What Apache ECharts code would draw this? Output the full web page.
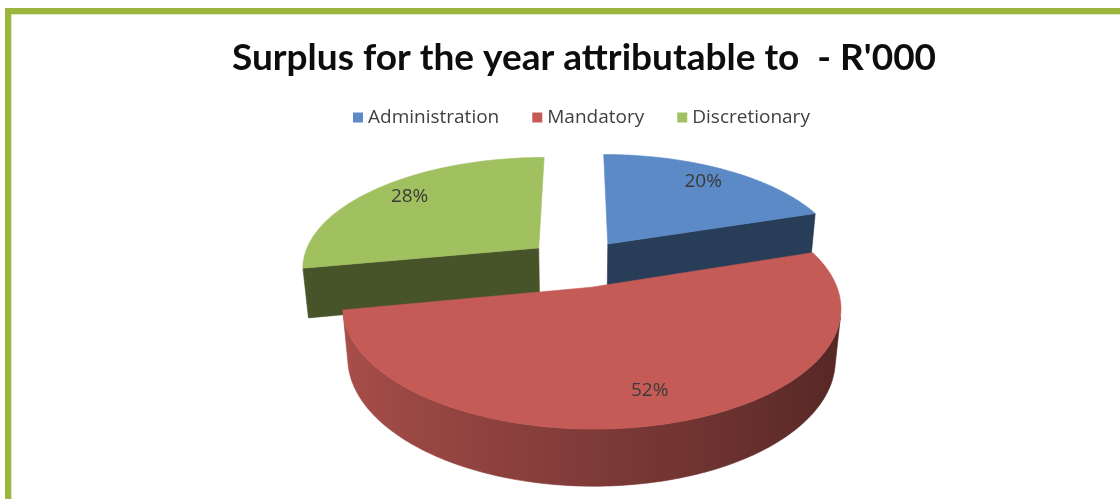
<!DOCTYPE html>
<html>
<head>
<meta charset="utf-8">
<script src="https://cdn.jsdelivr.net/npm/echarts@6/dist/echarts.min.js"></script>
<style>
  html, body { margin: 0; padding: 0; background: #ffffff; }
  #chart { width: 1120px; height: 499px; }
</style>
</head>
<body>
<div id="chart"></div>
<script>
// Surplus split by fund type (percent of total)
const categories = ['Administration', 'Mandatory', 'Discretionary'];
const shares = [20, 52, 28];
const titleText = "Surplus for the year attributable to  - R'000";

// Top-face colours of each slice
const sliceColors = ['#5B8AC6', '#C45B56', '#A1C05F'];

// Camera and solid settings for the tilted, exploded pie
const view = {
  tilt: 27.6 * Math.PI / 180,
  dist: 5.43,
  thick: 0.24,
  explode: 0.22,
  scale: 237,
  cx: 578,
  cy: 263,
  labelRadius: 0.8
};

const total = shares.reduce((a, b) => a + b, 0);
const starts = [];
(function () {
  let acc = 0;
  shares.forEach(v => { starts.push(acc / total * 2 * Math.PI); acc += v; });
})();

const cosT = Math.cos(view.tilt), sinT = Math.sin(view.tilt);
const camera = [0, view.dist * sinT, -view.dist * cosT];

// world (X right, Y up, Z away) -> screen pixels
function project(X, Y, Z) {
  const yv = Y * cosT + Z * sinT;
  const zv = Z * cosT - Y * sinT;
  const s = view.dist / (view.dist + zv);
  return [view.cx + view.scale * X * s, view.cy - view.scale * yv * s];
}

function shade(hex, f) {
  const n = parseInt(hex.slice(1), 16);
  const r = Math.min(255, Math.round(((n >> 16) & 255) * f));
  const g = Math.min(255, Math.round(((n >> 8) & 255) * f));
  const b = Math.min(255, Math.round((n & 255) * f));
  return 'rgb(' + r + ',' + g + ',' + b + ')';
}

function sliceOffset(i) {
  const a0 = starts[i];
  const a1 = a0 + shares[i] / total * 2 * Math.PI;
  const mid = (a0 + a1) / 2;
  return { ox: view.explode * Math.sin(mid), oz: view.explode * Math.cos(mid) };
}

// farther slices are painted first
const depthRank = shares.map((_, i) => i)
  .sort((p, q) => sliceOffset(q).oz - sliceOffset(p).oz)
  .reduce((m, idx, r) => { m[idx] = r; return m; }, {});

function buildSlice(i, value) {
  const a0 = starts[i];
  const a1 = a0 + value / total * 2 * Math.PI;
  const mid = (a0 + a1) / 2;
  const ox = view.explode * Math.sin(mid);
  const oz = view.explode * Math.cos(mid);
  const h = -view.thick;
  const pt = (r, th, y) => project(ox + r * Math.sin(th), y, oz + r * Math.cos(th));
  const base = sliceColors[i];
  const zBase = depthRank[i] * 10;
  const steps = Math.max(8, Math.ceil((a1 - a0) / (Math.PI / 180)));
  const angles = [];
  for (let k = 0; k <= steps; k++) angles.push(a0 + (a1 - a0) * k / steps);

  const children = [];

  // flat cut faces along the two radii
  const radial = [
    [a0, [-Math.cos(a0), Math.sin(a0)]],
    [a1, [Math.cos(a1), -Math.sin(a1)]]
  ];
  radial.forEach(function (w) {
    const a = w[0], nrm = w[1];
    const facing = nrm[0] * (camera[0] - ox) + nrm[1] * (camera[2] - oz);
    if (facing > 0.5) {
      const col = shade(base, 0.44);
      children.push({
        type: 'polygon',
        shape: { points: [pt(0, 0, 0), pt(1, a, 0), pt(1, a, h), pt(0, 0, h)] },
        style: { fill: col, stroke: col, lineWidth: 0.6 },
        z2: zBase + 1
      });
    }
  });

  // curved rim, only the part turned to the viewer
  const vis = angles.filter(function (th) {
    const nx = Math.sin(th), nz = Math.cos(th);
    return nx * (camera[0] - ox - nx) + nz * (camera[2] - oz - nz) > 0;
  });
  if (vis.length > 1) {
    const topPts = vis.map(th => pt(1, th, 0));
    const botPts = vis.map(th => pt(1, th, h));
    const pts = topPts.concat(botPts.slice().reverse());
    const xs = pts.map(p => p[0]);
    const minX = Math.min.apply(null, xs), maxX = Math.max.apply(null, xs);
    const stops = [];
    vis.forEach(function (th, k) {
      if (k % 4 !== 0 && k !== vis.length - 1) return;
      const px = botPts[k][0];
      stops.push({
        offset: Math.max(0, Math.min(1, (px - minX) / Math.max(1, maxX - minX))),
        color: shade(base, 0.645 - 0.215 * Math.sin(th))
      });
    });
    stops.sort((p, q) => p.offset - q.offset);
    const grad = new echarts.graphic.LinearGradient(minX, 0, maxX, 0, stops, true);
    children.push({
      type: 'polygon',
      shape: { points: pts },
      style: { fill: grad, stroke: grad, lineWidth: 0.6 },
      z2: zBase + 2
    });
  }

  // top face
  const top = [pt(0, 0, 0)].concat(angles.map(th => pt(1, th, 0)));
  children.push({
    type: 'polygon',
    shape: { points: top },
    style: { fill: base, stroke: base, lineWidth: 0.6 },
    z2: zBase + 3
  });

  // percentage label
  const lp = pt(view.labelRadius, mid, 0);
  children.push({
    type: 'text',
    style: {
      text: Math.round(value / total * 100) + '%',
      x: lp[0], y: lp[1] - 2,
      fill: '#3a3a3a',
      font: '19px "Open Sans"',
      align: 'center',
      verticalAlign: 'middle'
    },
    z2: 100
  });

  return { type: 'group', children: children };
}

const chart = echarts.init(document.getElementById('chart'), null, { renderer: 'canvas' });

chart.setOption({
  animation: false,
  backgroundColor: '#ffffff',
  title: {
    text: titleText,
    left: 579,
    textAlign: 'center',
    top: 35,
    textStyle: {
      fontFamily: 'Lato',
      fontWeight: 'bold',
      fontSize: 37,
      color: '#0d0d0d'
    }
  },
  legend: {
    left: 348,
    top: 103,
    icon: 'rect',
    itemWidth: 10,
    itemHeight: 10,
    itemGap: 33,
    textStyle: { fontFamily: 'Open Sans', fontSize: 19, color: '#404040' },
    data: categories
  },
  graphic: [
    { type: 'rect', shape: { x: 5, y: 8, width: 1115, height: 6 }, style: { fill: '#9BB63E' }, silent: true },
    { type: 'rect', shape: { x: 5, y: 8, width: 6, height: 491 }, style: { fill: '#9BB63E' }, silent: true },
    { type: 'rect', shape: { x: 11, y: 14, width: 1109, height: 1 }, style: { fill: '#DCE8BE' }, silent: true },
    { type: 'rect', shape: { x: 11, y: 14, width: 1, height: 485 }, style: { fill: '#DCE8BE' }, silent: true }
  ],
  series: categories.map(function (name, i) {
    return {
      type: 'custom',
      name: name,
      coordinateSystem: 'none',
      silent: true,
      itemStyle: { color: sliceColors[i] },
      data: [[shares[i]]],
      renderItem: function (params, api) {
        return buildSlice(i, api.value(0));
      }
    };
  })
});
</script>
</body>
</html>
